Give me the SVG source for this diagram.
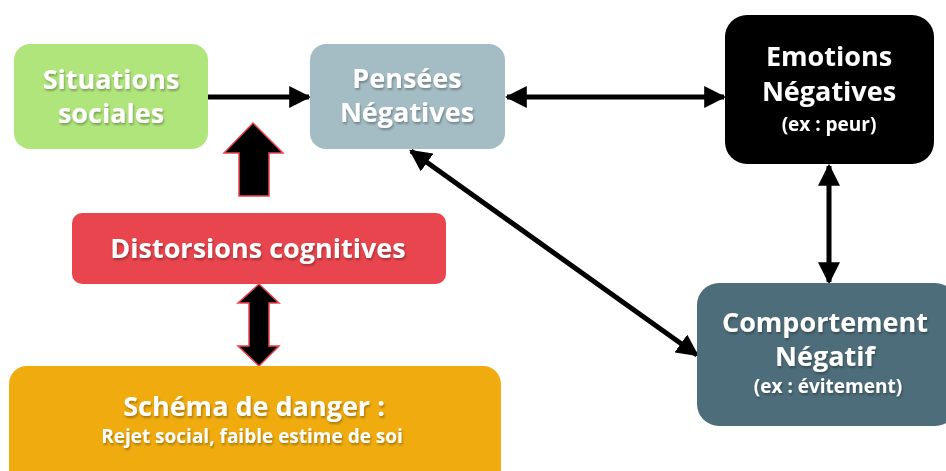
<svg xmlns="http://www.w3.org/2000/svg" width="946" height="471" viewBox="0 0 946 471">
<defs>
<style>
.t{font-family:"Open Sans","Liberation Sans",sans-serif;font-weight:bold;fill:#fff;text-anchor:middle;filter:url(#sh)}
.big{font-size:27px}
.sm{font-size:19px}
.ln{stroke:#000;stroke-width:5;fill:none}
.blk{fill:#000;stroke:#e8454e;stroke-width:1.5}
</style>
<filter id="sh" x="-10%" y="-20%" width="120%" height="150%">
<feDropShadow dx="1" dy="2" stdDeviation="1" flood-color="#000" flood-opacity="0.3"/>
</filter>
<marker id="ah" viewBox="0 0 10 10" refX="9" refY="5" markerWidth="4.4" markerHeight="4.4" orient="auto-start-reverse" markerUnits="strokeWidth">
<path d="M0,0 L10,5 L0,10 Z" fill="#000"/>
</marker>
</defs>
<rect width="946" height="471" fill="#fff"/>

<g id="connectors">
<line class="ln" x1="208" y1="97" x2="309" y2="97" marker-end="url(#ah)"/>
<line class="ln" x1="507" y1="97" x2="724" y2="97" marker-start="url(#ah)" marker-end="url(#ah)"/>
<line class="ln" x1="829" y1="166" x2="829" y2="282" marker-start="url(#ah)" marker-end="url(#ah)"/>
<line class="ln" x1="411" y1="151" x2="697" y2="355" marker-start="url(#ah)" marker-end="url(#ah)"/>
<path class="blk" d="M253,123 L283,153 L269,153 L269,196 L239,196 L239,153 L224,153 Z"/>
<path class="blk" d="M259,284 L279,303 L269,303 L269,346 L279,346 L259,366 L238,346 L249,346 L249,303 L238,303 Z"/>
</g>

<g id="situations">
<rect x="14" y="44" width="194" height="105" rx="16" fill="#b0e57c"/>
<text class="t big" x="111" y="89">Situations</text>
<text class="t big" x="111" y="123">sociales</text>
</g>

<g id="pensees">
<rect x="310" y="44" width="195" height="105" rx="16" fill="#a4bcc4"/>
<text class="t big" x="407" y="88">Pensées</text>
<text class="t big" x="407" y="122">Négatives</text>
</g>

<g id="emotions">
<rect x="725" y="15" width="209" height="149" rx="22" fill="#000"/>
<text class="t big" x="829" y="66">Emotions</text>
<text class="t big" x="829" y="101">Négatives</text>
<text class="t sm" x="829" y="131">(ex : peur)</text>
</g>

<g id="comportement">
<rect x="697" y="283" width="260" height="143" rx="22" fill="#4d6d7a"/>
<text class="t big" x="825" y="332">Comportement</text>
<text class="t big" x="825" y="366">Négatif</text>
<text class="t sm" x="828" y="393">(ex : évitement)</text>
</g>

<g id="distorsions">
<rect x="72" y="213" width="374" height="71" rx="10" fill="#e8454e"/>
<text class="t" x="258" y="258" font-size="27">Distorsions cognitives</text>
</g>

<g id="schema">
<rect x="9" y="366" width="492" height="125" rx="18" fill="#f0ab0f"/>
<text class="t big" x="254" y="416">Schéma de danger :</text>
<text class="t sm" x="252" y="443">Rejet social, faible estime de soi</text>
</g>
</svg>
